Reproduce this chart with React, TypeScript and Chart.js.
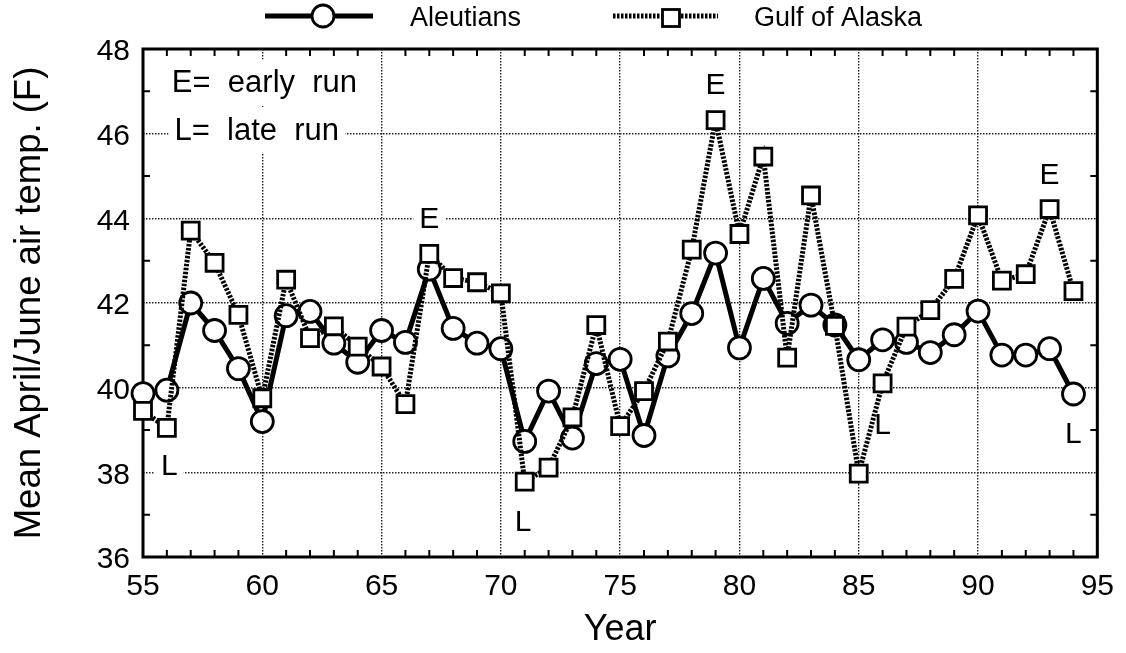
import React, { useEffect, useRef } from "react";
import { Chart, registerables } from "chart.js";

Chart.register(...registerables);

// ---- data ----
const years = [
  55, 56, 57, 58, 59, 60, 61, 62, 63, 64, 65, 66, 67, 68, 69, 70, 71, 72, 73, 74,
  75, 76, 77, 78, 79, 80, 81, 82, 83, 84, 85, 86, 87, 88, 89, 90, 91, 92, 93, 94,
];
const aleutians = [
  39.86, 39.94, 42.0, 41.35, 40.45, 39.2, 41.7, 41.8, 41.05, 40.6, 41.35, 41.07, 42.8, 41.4,
  41.05, 40.92, 38.73, 39.92, 38.81, 40.57, 40.67, 38.87, 40.75, 41.75, 43.18, 40.94, 42.58,
  41.52, 41.95, 41.48, 40.66, 41.13, 41.07, 40.83, 41.25, 41.81, 40.77, 40.77, 40.92, 39.85,
];
const gulfOfAlaska = [
  39.45, 39.05, 43.71, 42.95, 41.72, 39.75, 42.55, 41.17, 41.45, 40.97, 40.5, 39.61, 43.16,
  42.59, 42.49, 42.23, 37.78, 38.11, 39.3, 41.48, 39.09, 39.92, 41.09, 43.26, 46.32, 43.63,
  45.46, 40.71, 44.54, 41.46, 37.97, 40.1, 41.44, 41.83, 42.57, 44.07, 42.53, 42.68, 44.22,
  42.28,
];
const xTickValues = [55, 60, 65, 70, 75, 80, 85, 90, 95];
const yTickValues = [36, 38, 40, 42, 44, 46, 48];

// annotation labels (text, x in years, y in deg F)
const noteTexts = ["E=  early  run", "L=  late  run", "E", "E", "E", "L", "L", "L", "L"];
const noteX = [56.21, 56.32, 67, 79, 93, 56.1, 70.93, 86.0, 94.0];
const noteY = [47.2, 46.08, 44.0, 47.15, 45.03, 38.15, 36.83, 39.12, 38.92];

const FONT = '"Liberation Sans", Arial, Helvetica, sans-serif';
const GULF_DASH = [2.5, 1.5];

const decorPlugin = {
  id: "decor",
  beforeDatasetsDraw(chart: any) {
    const { ctx, chartArea } = chart;
    const xs = chart.scales.x;
    const ys = chart.scales.y;
    ctx.save();
    // annotations with white background
    for (let i = 0; i < noteTexts.length; i++) {
      const size = i < 2 ? 31 : 30;
      ctx.font = `${size}px ${FONT}`;
      const px = xs.getPixelForValue(noteX[i]);
      const py = ys.getPixelForValue(noteY[i]);
      const w = ctx.measureText(noteTexts[i]).width;
      const left = i < 2 ? px : px - w / 2;
      ctx.fillStyle = "#fff";
      ctx.fillRect(left - 6, py - size * 0.75, w + 12, size * 1.5);
      ctx.fillStyle = "#000";
      ctx.textBaseline = "middle";
      ctx.textAlign = "left";
      ctx.fillText(noteTexts[i], left, py + 1);
    }
    // minor ticks
    ctx.strokeStyle = "#000";
    ctx.lineWidth = 2;
    const tl = 7;
    ctx.beginPath();
    for (let v = 56; v < 95; v++) {
      if (v % 5 === 0) continue;
      const px = xs.getPixelForValue(v);
      ctx.moveTo(px, chartArea.top);
      ctx.lineTo(px, chartArea.top + tl);
      ctx.moveTo(px, chartArea.bottom);
      ctx.lineTo(px, chartArea.bottom - tl);
    }
    for (let v = 37; v < 48; v += 2) {
      const py = ys.getPixelForValue(v);
      ctx.moveTo(chartArea.left, py);
      ctx.lineTo(chartArea.left + tl, py);
      ctx.moveTo(chartArea.right, py);
      ctx.lineTo(chartArea.right - tl, py);
    }
    ctx.stroke();
    // frame
    ctx.lineWidth = 3;
    ctx.strokeRect(
      chartArea.left,
      chartArea.top,
      chartArea.right - chartArea.left,
      chartArea.bottom - chartArea.top
    );
    ctx.restore();
  },
  afterDraw(chart: any) {
    const { ctx } = chart;
    ctx.save();
    ctx.strokeStyle = "#000";
    // Aleutians legend
    ctx.lineWidth = 5;
    ctx.beginPath();
    ctx.moveTo(265, 16);
    ctx.lineTo(373, 16);
    ctx.stroke();
    ctx.beginPath();
    ctx.arc(323, 16, 11, 0, Math.PI * 2);
    ctx.fillStyle = "#fff";
    ctx.fill();
    ctx.lineWidth = 2.8;
    ctx.stroke();
    // Gulf legend
    ctx.lineWidth = 5;
    ctx.setLineDash(GULF_DASH);
    ctx.beginPath();
    ctx.moveTo(613, 16);
    ctx.lineTo(718, 16);
    ctx.stroke();
    ctx.setLineDash([]);
    ctx.fillStyle = "#fff";
    ctx.fillRect(662.5, 9.5, 17, 17);
    ctx.lineWidth = 2.8;
    ctx.strokeRect(662.5, 9.5, 17, 17);
    // texts
    ctx.fillStyle = "#000";
    ctx.font = `27px ${FONT}`;
    ctx.textBaseline = "middle";
    ctx.textAlign = "left";
    ctx.fillText("Aleutians", 410, 19);
    ctx.fillText("Gulf of Alaska", 754, 19);
    ctx.restore();
  },
};

export default function App() {
  const ref = useRef<HTMLCanvasElement>(null);
  useEffect(() => {
    const canvas = ref.current;
    if (!canvas) return;
    const chart = new Chart(canvas, {
      type: "line",
      data: {
        datasets: [
          {
            label: "Aleutians",
            data: years.map((x, i) => ({ x, y: aleutians[i] })),
            borderColor: "#000",
            borderWidth: 5,
            pointStyle: "circle",
            pointRadius: 11,
            pointBorderWidth: 2.8,
            pointBackgroundColor: "#fff",
            pointBorderColor: "#000",
            tension: 0,
            clip: false as any,
            order: 2,
          },
          {
            label: "Gulf of Alaska",
            data: years.map((x, i) => ({ x, y: gulfOfAlaska[i] })),
            borderColor: "#000",
            borderWidth: 5,
            borderDash: GULF_DASH,
            pointStyle: "rect",
            pointRadius: 12,
            pointBorderWidth: 2.8,
            pointBackgroundColor: "#fff",
            pointBorderColor: "#000",
            tension: 0,
            clip: false as any,
            order: 1,
          },
        ],
      },
      options: {
        animation: false,
        responsive: true,
        maintainAspectRatio: false,
        layout: { padding: { top: 49, right: 24, left: 0, bottom: 0 } },
        plugins: {
          legend: { display: false },
          tooltip: { enabled: false },
          title: { display: false },
        },
        scales: {
          x: {
            type: "linear",
            min: 55,
            max: 95,
            afterBuildTicks: (s: any) => {
              s.ticks = xTickValues.map((v) => ({ value: v }));
            },
            afterFit: (s: any) => {
              s.height = 96;
            },
            ticks: {
              color: "#000",
              font: { family: FONT, size: 30 },
              padding: 12,
              maxRotation: 0,
              autoSkip: false,
              callback: (v: any) => String(v),
            },
            grid: { color: "#222", lineWidth: 1.4, drawTicks: false },
            border: { display: false, dash: [1.5, 1.5] },
            title: {
              display: true,
              text: "Year",
              color: "#000",
              font: { family: FONT, size: 36 },
              padding: { top: 0, bottom: 1 },
            },
          },
          y: {
            type: "linear",
            min: 36,
            max: 48,
            afterBuildTicks: (s: any) => {
              s.ticks = yTickValues.map((v) => ({ value: v }));
            },
            afterFit: (s: any) => {
              s.width = 143;
            },
            ticks: {
              color: "#000",
              font: { family: FONT, size: 30 },
              padding: 13,
              labelOffset: 3,
              autoSkip: false,
              callback: (v: any) => String(v),
            },
            grid: { color: "#222", lineWidth: 1.4, drawTicks: false },
            border: { display: false, dash: [1.5, 1.5] },
            title: {
              display: true,
              text: "Mean April/June air temp. (F)",
              color: "#000",
              font: { family: FONT, size: 36.5 },
              padding: { top: 8, bottom: 0 },
            },
          },
        },
      },
      plugins: [decorPlugin],
    } as any);
    return () => chart.destroy();
  }, []);
  return (
    <div
      style={{
        position: "absolute",
        left: 0,
        top: 0,
        width: 1126,
        height: 653,
        background: "#fff",
      }}
    >
      <canvas ref={ref} />
    </div>
  );
}
